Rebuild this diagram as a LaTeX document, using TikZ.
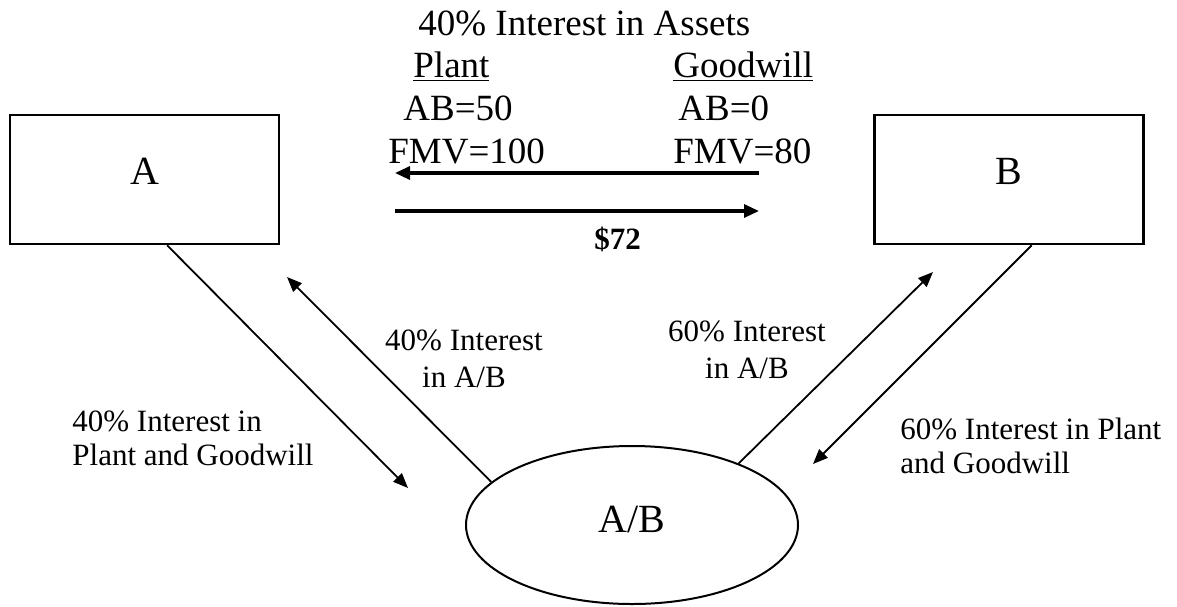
\documentclass[tikz,border=0pt]{standalone}
\usepackage{fontspec}
\setmainfont{Liberation Serif}
\usetikzlibrary{shapes.geometric,arrows.meta}
\tikzset{
  party/.style={draw, line width=1.3pt, minimum width=134.5pt, minimum height=64.5pt, inner sep=0pt, font=\fontsize{20}{24}\selectfont, text depth=8pt},
  venture/.style={draw, ellipse, line width=1pt, minimum width=166pt, minimum height=79pt, inner sep=0pt, font=\fontsize{20}{24}\selectfont, text depth=5.5pt},
  toptext/.style={anchor=base west, inner sep=0pt, font=\fontsize{18.5}{22}\selectfont},
  sidetext/.style={anchor=base west, inner sep=0pt, align=left, font=\fontsize{15.5}{17}\selectfont},
  midtext/.style={anchor=base, inner sep=0pt, align=center, font=\fontsize{15.5}{18.5}\selectfont},
  flow/.style={line width=1.6pt, -{Triangle[length=7.5pt,width=6.5pt]}},
  transfer/.style={line width=0.9pt, -{Triangle[length=7.5pt,width=6pt]}}
}
\begin{document}
\begin{tikzpicture}[x=0.5pt,y=-0.5pt]
\useasboundingbox (0,0) rectangle (1177,606);
\node[party] (A) at (144.5,179.5) {A};
\node[party] (B) at (1009,179.5) {B};
\node[venture] (AB) at (632,525) {A/B};
% assets sold by A
\node[toptext] (title) at (418,35) {40\% Interest in Assets};
\node[toptext] (plant) at (413,77) {\underline{Plant}};
\node[toptext] (goodwill) at (673,77) {\underline{Goodwill}};
\node[toptext] (abplant) at (403,120) {AB=50};
\node[toptext] (abgood) at (678,120) {AB=0};
\node[toptext] (fmvplant) at (388,163) {FMV=100};
\node[toptext] (fmvgood) at (673,163) {FMV=80};
% assets one way, cash the other
\coordinate (sellR) at (759,173);
\coordinate (sellL) at (395,173);
\coordinate (payL) at (395,211);
\coordinate (payR) at (759,211);
\draw[flow] (sellR) -- (sellL);
\draw[flow] (payL) -- (payR);
\node[anchor=base, inner sep=0pt, font=\bfseries\fontsize{15.5}{18}\selectfont] (price) at (617.5,249) {\$72};
% contributions to A/B and interests back
\coordinate (toA) at (287,277);
\coordinate (fromA) at (408,488);
\coordinate (toB) at (933,272);
\coordinate (fromB) at (813,464);
\draw[transfer] (A.-71) -- (fromA);
\draw[transfer] (AB.163) -- (toA);
\draw[transfer] (AB.30) -- (toB);
\draw[transfer] (B.-71) -- (fromB);
\node[sidetext] (contribA) at (72,465) {40\% Interest in\\Plant and Goodwill};
\node[midtext] (shareA) at (464,387) {40\% Interest\\in A/B};
\node[midtext] (shareB) at (747,378) {60\% Interest\\in A/B};
\node[sidetext] (contribB) at (900,473) {60\% Interest in Plant\\and Goodwill};
\end{tikzpicture}
\end{document}
